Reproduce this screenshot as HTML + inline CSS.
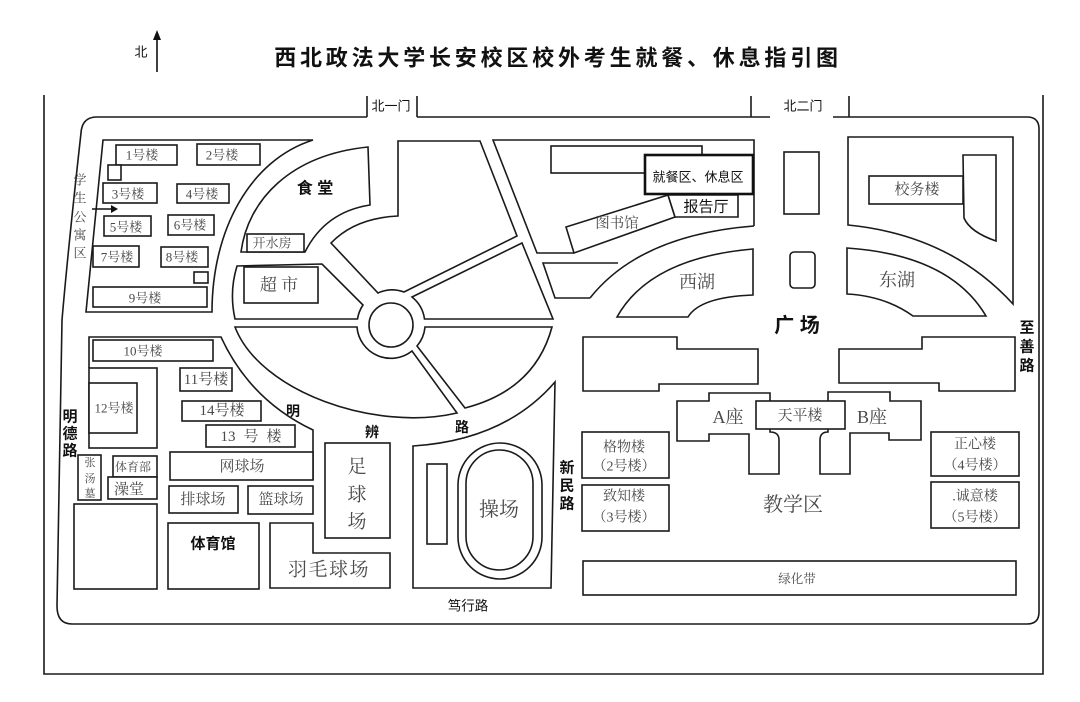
<!DOCTYPE html>
<html><head><meta charset="utf-8">
<style>
html,body{margin:0;padding:0;background:#fff;}
svg{display:block;}
.s{fill:#fff;stroke:#1a1a1a;stroke-width:1.6;stroke-linejoin:miter;}
.n{fill:none;stroke:#1a1a1a;stroke-width:1.6;}
text{font-family:"Liberation Serif","Noto Serif CJK SC",serif;fill:#4a4a4a;text-anchor:middle;dominant-baseline:central;}
.b{font-family:"Liberation Sans","Noto Sans CJK SC",sans-serif;fill:#111;font-weight:bold;}
.k{font-family:"Liberation Sans","Noto Sans CJK SC",sans-serif;fill:#111;}
</style></head><body>
<svg width="1080" height="702" viewBox="0 0 1080 702" xmlns="http://www.w3.org/2000/svg">
<rect x="0" y="0" width="1080" height="702" fill="#fff"/>

<!-- North arrow & title -->
<text class="k" x="141" y="52" font-size="13">北</text>
<line x1="157" y1="72" x2="157" y2="38" stroke="#111" stroke-width="1.6"/>
<polygon points="153,40 157,30 161,40" fill="#111"/>
<text class="b" x="558" y="58" font-size="22" letter-spacing="3.8">西北政法大学长安校区校外考生就餐、休息指引图</text>

<!-- outer frame -->
<path class="n" d="M44,95 L44,674 L1043,674 L1043,95" stroke="#333"/>

<!-- campus road boundary -->
<path class="n" d="M367,117 L97,117 Q82,117 81,133 Q68,250 62,320 L57,606 Q57,624 72,624 L1027,624 Q1039,624 1039,612 L1039,129 Q1039,117 1027,117 L833,117"/>
<path class="n" d="M417,117 L770,117"/>
<path class="n" d="M367,96 V117 M417,96 V117 M751,96 V117 M849,96 V117"/>
<text class="k" x="391" y="106" font-size="13">北一门</text>
<text class="k" x="803" y="106" font-size="13">北二门</text>

<!-- Dorm block -->
<path class="s" d="M103,140 L313,140 C250,160 212,230 212,312 L86,312 Z"/>
<rect class="s" x="116" y="145" width="61" height="20"/>
<rect class="s" x="108" y="165" width="13" height="15"/>
<rect class="s" x="197" y="144" width="63" height="21"/>
<rect class="s" x="103" y="183" width="54" height="20"/>
<rect class="s" x="177" y="184" width="52" height="19"/>
<rect class="s" x="104" y="216" width="47" height="20"/>
<rect class="s" x="168" y="215" width="46" height="20"/>
<rect class="s" x="93" y="246" width="46" height="21"/>
<rect class="s" x="161" y="247" width="47" height="20"/>
<rect class="s" x="194" y="272" width="14" height="11"/>
<rect class="s" x="93" y="287" width="114" height="20"/>
<line x1="92" y1="209" x2="112" y2="209" stroke="#111" stroke-width="1.6"/>
<polygon points="111,205 118,209 111,213" fill="#111"/>
<text x="142" y="155" font-size="13">1号楼</text>
<text x="222" y="155" font-size="13">2号楼</text>
<text x="128" y="194" font-size="13">3号楼</text>
<text x="202" y="194" font-size="13">4号楼</text>
<text x="126" y="227" font-size="13">5号楼</text>
<text x="190" y="225" font-size="13">6号楼</text>
<text x="117" y="257" font-size="13">7号楼</text>
<text x="182" y="257" font-size="13">8号楼</text>
<text x="145" y="298" font-size="13">9号楼</text>
<text x="80" y="180" font-size="13">学</text>
<text x="80" y="198" font-size="13">生</text>
<text x="80" y="217" font-size="13">公</text>
<text x="80" y="235" font-size="13">寓</text>
<text x="80" y="253" font-size="13">区</text>

<!-- 食堂 block -->
<path class="s" d="M368,147 L370,205 Q325,212 305,252 L241,252 C248,200 290,155 368,147 Z"/>
<rect class="s" x="247" y="234" width="57" height="18"/>
<text x="272" y="243" font-size="13">开水房</text>
<text class="b" x="315" y="189" font-size="16">食 堂</text>

<!-- Sectors around roundabout -->
<path class="s" d="M237,266 L322,264 L363,305 A34,34 0 0 0 357.5,319 L235,319 Q229,292 237,266 Z"/>
<rect class="s" x="244" y="267" width="74" height="36"/>
<text x="279" y="285" font-size="17">超 市</text>
<path class="s" d="M398,141 L480,141 L517,236 L404,292 A34,34 0 0 0 378,293 L331,243 Q355,218 398,216 Z"/>
<path class="s" d="M412,297 L522,243 L553,319 L424.5,319 A34,34 0 0 0 412,297 Z"/>
<path class="s" d="M425,327 L552,327 Q535,390 465,408 L417,346 A34,34 0 0 0 425,327 Z"/>
<path class="s" d="M235,327 L357,327 A34,34 0 0 0 412,351 L457,413 C375,432 260,392 235,327 Z"/>
<circle class="s" cx="391" cy="325" r="22"/>

<!-- 明辨路 -->
<text class="b" x="293" y="411" font-size="14">明</text>
<text class="b" x="372" y="432" font-size="14">辨</text>
<text class="b" x="462" y="427" font-size="14">路</text>

<!-- Left-bottom block -->
<path class="n" d="M89,368 L89,337 L221,337 Q250,400 313,430 L313,480"/>
<rect class="s" x="93" y="340" width="120" height="21"/>
<text x="143" y="351" font-size="13">10号楼</text>
<rect class="s" x="89" y="368" width="68" height="80"/>
<rect class="s" x="89" y="383" width="48" height="50"/>
<text x="114" y="408" font-size="13">12号楼</text>
<rect class="s" x="180" y="368" width="52" height="23"/>
<text x="206" y="380" font-size="15">11号楼</text>
<rect class="s" x="182" y="401" width="79" height="20"/>
<text x="222" y="411" font-size="15">14号楼</text>
<rect class="s" x="206" y="425" width="89" height="22"/>
<text x="228" y="437" font-size="15">13</text>
<text x="251" y="437" font-size="15">号</text>
<text x="274" y="437" font-size="15">楼</text>
<rect class="s" x="170" y="452" width="143" height="28"/>
<text x="242" y="467" font-size="15">网球场</text>
<rect class="s" x="169" y="486" width="69" height="27"/>
<text x="203" y="500" font-size="15">排球场</text>
<rect class="s" x="248" y="486" width="65" height="28"/>
<text x="281" y="500" font-size="15">篮球场</text>
<rect class="s" x="168" y="523" width="91" height="66"/>
<text class="b" x="213" y="544" font-size="15">体育馆</text>
<path class="s" d="M270,523 L313,523 L313,553 L390,553 L390,588 L270,588 Z"/>
<text x="329" y="570" font-size="19" letter-spacing="1.5">羽毛球场</text>
<rect class="s" x="78" y="455" width="23" height="45"/>
<text x="90" y="463" font-size="11">张</text>
<text x="90" y="479" font-size="11">汤</text>
<text x="90" y="494" font-size="11">墓</text>
<rect class="s" x="113" y="456" width="44" height="21"/>
<text x="133" y="467" font-size="12">体育部</text>
<rect class="s" x="108" y="477" width="49" height="22"/>
<text x="129" y="490" font-size="15">澡堂</text>
<rect class="s" x="74" y="504" width="83" height="85"/>
<text class="b" x="70" y="417" font-size="15">明</text>
<text class="b" x="70" y="434" font-size="15">德</text>
<text class="b" x="70" y="451" font-size="15">路</text>

<!-- 足球场 / 操场 -->
<rect class="s" x="325" y="443" width="65" height="95"/>
<text x="357" y="467" font-size="19">足</text>
<text x="357" y="495" font-size="19">球</text>
<text x="357" y="522" font-size="19">场</text>
<path class="s" d="M413,446 Q505,440 555,382 L551,588 L413,588 Z"/>
<rect class="s" x="427" y="464" width="20" height="80"/>
<rect class="s" x="458" y="443" width="84" height="136" rx="42" ry="42"/>
<rect class="s" x="466" y="450" width="67" height="120" rx="33.5" ry="33.5"/>
<text x="499" y="510" font-size="20">操场</text>
<text class="k" x="468" y="606" font-size="13.5">笃行路</text>
<text class="b" x="567" y="468" font-size="15">新</text>
<text class="b" x="567" y="486" font-size="15">民</text>
<text class="b" x="567" y="504" font-size="15">路</text>

<!-- Library block -->
<path class="n" d="M754,226 L754,140 L493,140 L537,253 L574,253"/>
<rect class="s" x="551" y="146" width="151" height="27"/>
<polygon class="s" points="566,227 574,253 675,217 668,195"/>
<polygon class="s" points="668,195 738,195 738,217 675,217"/>
<rect x="645" y="155" width="108" height="39" fill="#fff" stroke="#111" stroke-width="2.6"/>
<text class="k" x="698" y="177" font-size="13">就餐区、休息区</text>
<text class="k" x="706" y="207" font-size="15">报告厅</text>
<text x="617" y="224" font-size="14.5">图书馆</text>
<path class="n" d="M754,226 Q640,235 590,298"/>
<path class="n" d="M618,263 L543,263 L555,298 L590,298"/>

<!-- Lakes & plaza -->
<path class="s" d="M753,249 L753,295 Q700,297 688,317 L617,317 Q650,258 753,249 Z"/>
<text x="697" y="282" font-size="18">西湖</text>
<path class="s" d="M847,248 Q950,255 986,316 L913,316 Q885,296 847,294 Z"/>
<text x="897" y="280" font-size="18">东湖</text>
<path class="s" d="M848,137 L1013,137 L1013,304 Q950,235 848,225 Z"/>
<path class="s" d="M963,155 L996,155 L996,241 Q970,232 964,218 L963,155 Z"/>
<rect class="s" x="869" y="176" width="94" height="28"/>
<text x="917" y="190" font-size="15">校务楼</text>
<rect class="s" x="784" y="152" width="35" height="62"/>
<rect class="s" x="790" y="252" width="25" height="36" rx="4" ry="4"/>
<text class="b" x="797" y="326" font-size="20">广 场</text>
<text class="b" x="1027" y="328" font-size="15">至</text>
<text class="b" x="1027" y="347" font-size="15">善</text>
<text class="b" x="1027" y="366" font-size="15">路</text>

<!-- Teaching area -->
<polygon class="s" points="583,337 677,337 677,349 758,349 758,384 659,384 659,391 583,391"/>
<polygon class="s" points="839,349 922,349 922,337 1015,337 1015,391 939,391 939,383 839,383"/>
<path class="s" d="M677,401 L709,401 L709,393 L770,393 L770,432 Q779,432 779,440 L779,474 L749,474 L749,434 L709,434 L709,441 L677,441 Z"/>
<path class="s" d="M828,392 L890,392 L890,401 L921,401 L921,440 L889,440 L889,433 L850,433 L850,474 L820,474 L820,440 Q820,432 828,432 Z"/>
<rect class="s" x="756" y="401" width="89" height="28"/>
<text x="728" y="417" font-size="18">A座</text>
<text x="800" y="416" font-size="15">天平楼</text>
<text x="872" y="417" font-size="18">B座</text>
<rect class="s" x="582" y="432" width="87" height="46"/>
<text x="624" y="448" font-size="14">格物楼</text>
<text x="624" y="467" font-size="14">（2号楼）</text>
<rect class="s" x="582" y="485" width="87" height="46"/>
<text x="624" y="497" font-size="14">致知楼</text>
<text x="624" y="518" font-size="14">（3号楼）</text>
<text x="793" y="505" font-size="20">教学区</text>
<rect class="s" x="931" y="432" width="88" height="44"/>
<text x="975" y="445" font-size="14">正心楼</text>
<text x="975" y="466" font-size="14">（4号楼）</text>
<rect class="s" x="931" y="482" width="88" height="46"/>
<text x="975" y="497" font-size="14">.诚意楼</text>
<text x="975" y="518" font-size="14">（5号楼）</text>
<rect class="s" x="583" y="561" width="433" height="34"/>
<text x="797" y="579" font-size="12.5">绿化带</text>
</svg>
</body></html>
